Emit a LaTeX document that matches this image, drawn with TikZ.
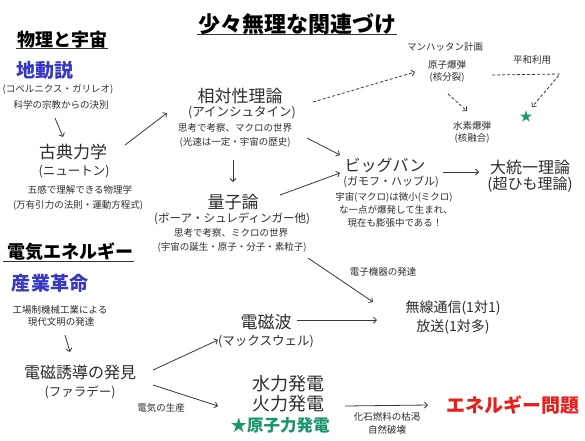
\documentclass[tikz,border=0pt]{standalone}
\usepackage{fontspec}
\setmainfont{Noto Sans CJK JP}
\usetikzlibrary{arrows.meta}
\definecolor{aoiro}{RGB}{55,55,195}
\definecolor{midori}{RGB}{25,150,110}
\definecolor{akairo}{RGB}{235,30,30}
\definecolor{sumi}{RGB}{45,45,45}
\tikzset{
  fsize/.style={font=\fontsize{#1}{#1}\selectfont},
  bsize/.style={font=\fontsize{#1}{#1}\selectfont\bfseries},
  midashi/.style={inner sep=1pt, text=black, font=\fontsize{18}{18}\selectfont\bfseries},
  koumoku/.style={inner sep=1pt, text=sumi, font=\fontsize{17}{17}\selectfont},
  kakko/.style={inner sep=1pt, text=sumi, font=\fontsize{12.5}{12.5}\selectfont},
  setsumei/.style={inner sep=1pt, text=sumi, font=\fontsize{9.5}{9.5}\selectfont},
  yaji/.style={-{Straight Barb[length=3pt,width=6pt]}, draw=gray!45!black, line width=0.8pt},
  tensen/.style={yaji, dash pattern=on 3pt off 2pt},
  kasen/.style={line width=1pt, draw=black!80},
}
\begin{document}
\begin{tikzpicture}[x=1pt,y=-1pt]
\useasboundingbox[fill=white] (0,0) rectangle (585,440);
% titles
\node[midashi, bsize=22] (title) at (297,24) {少々無理な関連づけ};
\draw[kasen] ([yshift=-2pt]title.base west) -- ([yshift=-2pt]title.base east);
\node[midashi] (butsuri) at (62,40) {物理と宇宙};
\draw[kasen] ([yshift=-2pt]butsuri.base west) -- ([yshift=-2pt]butsuri.base east);
\node[midashi] (denki) at (70,252) {電気エネルギー};
\draw[kasen] ([yshift=-3pt,xshift=-3pt]denki.base west) -- ([yshift=-3pt]denki.base east);
% physics
\node[midashi, text=aoiro, bsize=19] (chidou) at (45,70) {地動説};
\node[setsumei] (chidouA) at (58,90) {(コペルニクス・ガリレオ)};
\node[setsumei] (chidouB) at (61,105) {科学の宗教からの決別};
\node[koumoku] (koten) at (73,152) {古典力学};
\node[kakko] (kotenA) at (74,172) {(ニュートン)};
\node[setsumei] (kotenB) at (80,190) {五感で理解できる物理学};
\node[setsumei] (kotenC) at (78,205) {(万有引力の法則・運動方程式)};
\node[koumoku] (soutai) at (240,96) {相対性理論};
\node[kakko] (soutaiA) at (242,113) {(アインシュタイン)};
\node[setsumei] (soutaiB) at (235,128) {思考で考察、マクロの世界};
\node[setsumei] (soutaiC) at (235,142) {(光速は一定・宇宙の歴史)};
\node[koumoku] (ryoushi) at (233,202) {量子論};
\node[kakko, fsize=11.5] (ryoushiA) at (232,219) {(ボーア・シュレディンガー他)};
\node[setsumei] (ryoushiB) at (231,233) {思考で考察、ミクロの世界};
\node[setsumei] (ryoushiC) at (232,247) {(宇宙の誕生・原子・分子・素粒子)};
\node[setsumei] (manhattan) at (445,47) {マンハッタン計画};
\node[setsumei] (genbaku) at (447,65) {原子爆弾};
\node[setsumei] (genbakuA) at (447,77) {(核分裂)};
\node[setsumei] (heiwa) at (532,60) {平和利用};
\node[inner sep=0pt, text=midori, fsize=13] (hoshi) at (526,117) {★};
\node[setsumei] (suibaku) at (472,126) {水素爆弾};
\node[setsumei] (suibakuA) at (472,138) {(核融合)};
\node[koumoku, fsize=16] (bigbang) at (385,165) {ビッグバン};
\node[kakko, fsize=11] (bigbangA) at (391,182) {(ガモフ・ハッブル)};
\node[setsumei] (bigbangB) at (394,197) {宇宙(マクロ)は微小(ミクロ)};
\node[setsumei] (bigbangC) at (396,210) {な一点が爆発して生まれ、};
\node[setsumei] (bigbangD) at (395,223) {現在も膨張中である！};
\node[koumoku, fsize=16] (toitsu) at (530,167) {大統一理論};
\node[koumoku, fsize=15] (toitsuA) at (530,185) {(超ひも理論)};
% electricity
\node[midashi, text=aoiro, bsize=19] (sangyo) at (50,283) {産業革命};
\node[setsumei] (sangyoA) at (60,310) {工場制機械工業による};
\node[setsumei] (sangyoB) at (61,322) {現代文明の発達};
\node[koumoku, fsize=16] (denji) at (80,372) {電磁誘導の発見};
\node[kakko] (denjiA) at (80,392) {(ファラデー)};
\node[koumoku] (denjiha) at (266,322) {電磁波};
\node[kakko] (denjihaA) at (266,342) {(マックスウェル)};
\node[koumoku, fsize=14] (musen) at (453,308) {無線通信(1対1)};
\node[koumoku, fsize=14] (musenA) at (453,327) {放送(1対多)};
\node[koumoku, fsize=18] (suiryoku) at (288,384) {水力発電};
\node[koumoku, fsize=18] (karyoku) at (288,404) {火力発電};
\node[koumoku, text=midori, bsize=16.5] (genshi) at (280,425) {★原子力発電};
\node[midashi, text=akairo, bsize=19] (mondai) at (513,405) {エネルギー問題};
\node[setsumei] (denshi) at (383,272) {電子機器の発達};
\node[setsumei] (seisan) at (161,408) {電気の生産};
\node[setsumei] (kaseki) at (387,417) {化石燃料の枯渇};
\node[setsumei] (shizen) at (387,430) {自然破壊};
% connectors
\draw[yaji] ([shift={(-6,13)}]chidouB.center) -- ([shift={(-10,-15)}]koten.center);
\draw[yaji] ([shift={(52,-7)}]koten.center) -- ([shift={(-75,0)}]soutaiA.center);
\draw[yaji] ([shift={(-2,18)}]soutaiC.center) -- ([shift={(0,-20)}]ryoushi.center);
\draw[yaji] ([shift={(72,-4)}]soutaiC.center) -- ([shift={(-45,-10)}]bigbang.center);
\draw[yaji] ([shift={(47,-7)}]ryoushi.center) -- ([shift={(-45,8)}]bigbang.center);
\draw[tensen] ([shift={(71,-11)}]soutaiA.center) -- ([shift={(-32,7)}]genbaku.center);
\draw[tensen] ([shift={(1,17)}]genbakuA.center) -- ([shift={(-5,-15)}]suibaku.center);
\draw[tensen] ([shift={(-40,15)}]heiwa.center) -- ++(68,-1) -- ([shift={(6,-10)}]hoshi.center);
\draw[yaji] ([shift={(58,7)}]bigbang.center) -- ([shift={(-51,5)}]toitsu.center);
\draw[yaji] ([shift={(4,13)}]sangyoB.center) -- ([shift={(-10,-20)}]denji.center);
\draw[yaji] ([shift={(73,-2)}]denji.center) -- ([shift={(-48,18)}]denjiha.center);
\draw[yaji] ([shift={(73,13)}]denji.center) -- ([shift={(-70,2)}]karyoku.center);
\draw[yaji] ([shift={(31,-2)}]denjiha.center) -- ([shift={(-76,12)}]musen.center);
\draw[yaji] ([shift={(76,11)}]ryoushiC.center) -- ([shift={(-80,-6)}]musen.center);
\draw[yaji] ([shift={(57,2)}]karyoku.center) -- ([shift={(-85,0)}]mondai.center);
\end{tikzpicture}
\end{document}
